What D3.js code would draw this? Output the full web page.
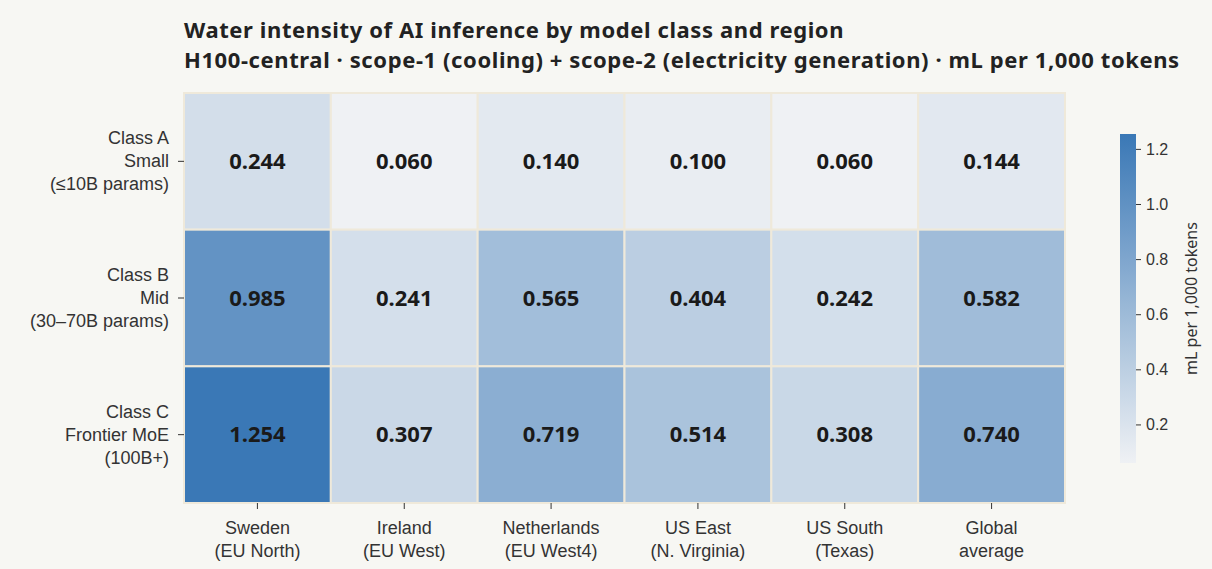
<!DOCTYPE html>
<meta charset="utf-8">
<script src="https://d3js.org/d3.v7.min.js"></script>
<style>
body { margin: 0; background: #f7f7f3; }
svg { font-family: "Noto Sans", sans-serif; }
.domain { display: none; }
.tick line { stroke: #333; }
</style>
<body>
<div id="chart"></div>
<script>
// data
var rowLabels = [['Class A', 'Small', '(≤10B params)'], ['Class B', 'Mid', '(30–70B params)'], ['Class C', 'Frontier MoE', '(100B+)']];
var colLabels = [['Sweden', '(EU North)'], ['Ireland', '(EU West)'], ['Netherlands', '(EU West4)'], ['US East', '(N. Virginia)'], ['US South', '(Texas)'], ['Global', 'average']];
var classA = [0.244, 0.060, 0.140, 0.100, 0.060, 0.144];
var classB = [0.985, 0.241, 0.565, 0.404, 0.242, 0.582];
var classC = [1.254, 0.307, 0.719, 0.514, 0.308, 0.740];
var cbTicks = [0.2, 0.4, 0.6, 0.8, 1.0, 1.2];

var values = [classA, classB, classC];
var cells = [];
values.forEach(function(row, i) {
    row.forEach(function(v, j) { cells.push({r: i, c: j, v: v}); });
});

var W = 1212, H = 569;
var margin = {top: 93, left: 184, right: 147, bottom: 66};
var w = W - margin.left - margin.right;
var h = H - margin.top - margin.bottom;

var svg = d3.select('#chart').append('svg')
    .attr('width', W).attr('height', H);

svg.append('rect').attr('width', W).attr('height', H).attr('fill', '#f7f7f3');

var vmin = d3.min(cells, d => d.v), vmax = d3.max(cells, d => d.v);
var color = d3.scaleLinear()
    .domain([vmin, vmax])
    .range(['#eff1f4', '#3a78b6']);

var x = d3.scaleBand().domain(d3.range(colLabels.length)).range([margin.left, margin.left + w]);
var y = d3.scaleBand().domain(d3.range(rowLabels.length)).range([margin.top, margin.top + h]);

// cells
svg.selectAll('.cell')
    .data(cells)
    .enter()
    .append('rect')
    .attr('x', d => x(d.c))
    .attr('y', d => y(d.r))
    .attr('width', x.bandwidth())
    .attr('height', y.bandwidth())
    .attr('fill', d => color(d.v))
    .attr('stroke', '#efe9da')
    .attr('stroke-width', 2);

svg.selectAll('.val')
    .data(cells)
    .enter()
    .append('text')
    .attr('x', d => x(d.c) + x.bandwidth() / 2)
    .attr('y', d => y(d.r) + y.bandwidth() / 2)
    .attr('dy', '0.35em')
    .attr('text-anchor', 'middle')
    .style('font-size', '22px')
    .style('font-weight', 'bold')
    .style('fill', '#1a1a1a')
    .text(d => d.v.toFixed(3));

// x axis
var gx = svg.append('g')
    .attr('transform', 'translate(0,' + (margin.top + h) + ')')
    .call(d3.axisBottom(x).tickSize(6).tickFormat(''));
gx.selectAll('.tick').each(function(d) {
    var t = d3.select(this).append('text')
        .attr('text-anchor', 'middle')
        .attr('y', 31)
        .style('fill', '#333').style('font-size', '18px');
    colLabels[d].forEach(function(s, k) {
        t.append('tspan').attr('x', 0).attr('dy', k == 0 ? 0 : 23).text(s);
    });
});

// y axis
var gy = svg.append('g')
    .attr('transform', 'translate(' + margin.left + ',0)')
    .call(d3.axisLeft(y).tickSize(6).tickFormat(''));
gy.selectAll('.tick').each(function(d) {
    var t = d3.select(this).append('text')
        .attr('text-anchor', 'end')
        .attr('x', -15)
        .attr('y', -23 + 6)
        .style('fill', '#333').style('font-size', '18px');
    rowLabels[d].forEach(function(s, k) {
        t.append('tspan').attr('x', -15).attr('dy', k == 0 ? 0 : 23).text(s);
    });
});

// title (two lines)
svg.append('text')
    .attr('x', margin.left).attr('y', 38)
    .style('font-size', '22px').style('font-weight', 'bold').style('fill', '#222')
    .style('letter-spacing', '0.6px')
    .text('Water intensity of AI inference by model class and region');
svg.append('text')
    .attr('x', margin.left).attr('y', 68)
    .style('font-size', '22px').style('font-weight', 'bold').style('fill', '#222')
    .style('letter-spacing', '0.6px')
    .text('H100-central · scope-1 (cooling) + scope-2 (electricity generation) · mL per 1,000 tokens');

// colorbar
var cbX = 1120, cbW = 16, cbTop = 134, cbBottom = 463;
var cy = d3.scaleLinear().domain([vmin, vmax]).range([cbBottom, cbTop]);
var defs = svg.append('defs');
var grad = defs.append('linearGradient').attr('id', 'cbgrad')
    .attr('x1', 0).attr('y1', 1).attr('x2', 0).attr('y2', 0);
d3.range(0, 1.0001, 0.1).forEach(function(t) {
    grad.append('stop').attr('offset', t).attr('stop-color', color(vmin + t * (vmax - vmin)));
});
svg.append('rect')
    .attr('x', cbX).attr('y', cbTop)
    .attr('width', cbW).attr('height', cbBottom - cbTop)
    .attr('fill', 'url(#cbgrad)');
var gc = svg.append('g')
    .attr('transform', 'translate(' + (cbX + cbW) + ',0)')
    .call(d3.axisRight(cy).tickValues(cbTicks).tickFormat(d3.format('.1f')).tickSize(5).tickPadding(5));
gc.selectAll('text').style('font-size', '16px').style('fill', '#333');
svg.append('text')
    .attr('transform', 'translate(1197,' + ((cbTop + cbBottom) / 2) + ') rotate(-90)')
    .attr('text-anchor', 'middle')
    .style('font-size', '16px').style('fill', '#333')
    .text('mL per 1,000 tokens');
</script>
</body>
